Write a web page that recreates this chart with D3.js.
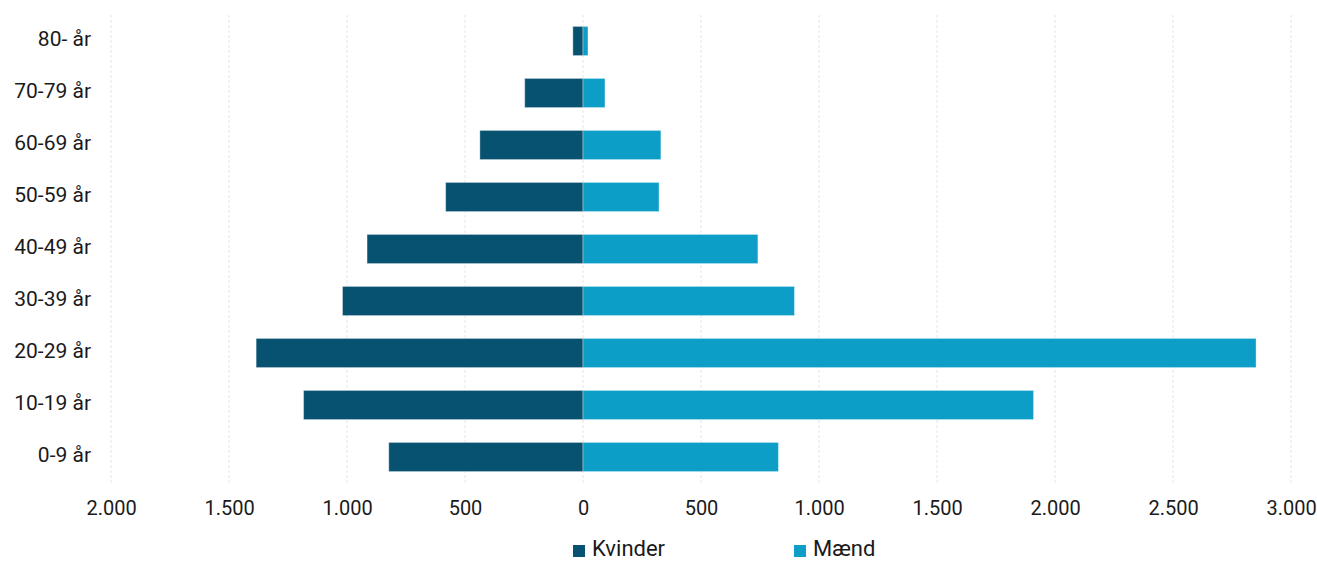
<!DOCTYPE html>
<html><head><meta charset="utf-8">
<script src="https://cdn.jsdelivr.net/npm/d3@7"></script>
<style>
body{margin:0;background:#fff;}
text{font-family:"Roboto","DejaVu Sans Condensed",sans-serif;fill:#1a1a1a;}
</style></head>
<body><svg id="c" width="1317" height="562"></svg>
<script>
const categories = ["80- år","70-79 år","60-69 år","50-59 år","40-49 år","30-39 år","20-29 år","10-19 år","0-9 år"];
const kvinder = [43, 247, 437, 582, 915, 1019, 1385, 1184, 823];
const maend = [21, 93, 330, 322, 741, 896, 2852, 1909, 828];
const tickValues = [-2000,-1500,-1000,-500,0,500,1000,1500,2000,2500,3000];
const seriesNames = ["Kvinder","Mænd"];
const colors = ["#065270","#0c9ec6"];

const svg = d3.select("#c");
const x = d3.scaleLinear().domain([-2000,3000]).range([111,1291]);
const y = d3.scaleBand().domain(categories).range([15,483]).paddingInner(0.44).paddingOuter(0.22);

// gridlines
svg.append("g").selectAll("line").data(tickValues).join("line")
  .attr("x1",d=>x(d)).attr("x2",d=>x(d)).attr("y1",15).attr("y2",483)
  .attr("stroke","#e6e6e6").attr("stroke-width",1).attr("stroke-dasharray","3,2");

// bars
svg.append("g").selectAll("rect").data(categories).join("rect")
  .attr("x",(d,i)=>x(-kvinder[i])).attr("width",(d,i)=>x(0)-x(-kvinder[i]))
  .attr("y",d=>y(d)).attr("height",y.bandwidth()).attr("fill",colors[0])
  .attr("stroke","rgba(255,255,255,0.35)").attr("stroke-width",1);
svg.append("g").selectAll("rect").data(categories).join("rect")
  .attr("x",x(0)).attr("width",(d,i)=>x(maend[i])-x(0))
  .attr("y",d=>y(d)).attr("height",y.bandwidth()).attr("fill",colors[1])
  .attr("stroke","rgba(255,255,255,0.35)").attr("stroke-width",1);

// y axis labels
const ya = svg.append("g").attr("transform","translate(91,-2)")
  .call(d3.axisLeft(y).tickSize(0).tickPadding(0));
ya.select(".domain").remove();
ya.selectAll("text").style("font-size","21px").style("font-family","Roboto, sans-serif").attr("fill","#1a1a1a");

// x axis
const fmt = v => d3.format(",")(Math.abs(v)).replace(/,/g,".");
const xa = svg.append("g").attr("transform","translate(0,483)")
  .call(d3.axisBottom(x).tickValues(tickValues).tickFormat(fmt).tickSize(0).tickPadding(18));
xa.select(".domain").remove();
xa.selectAll("text").style("font-size","20px").style("font-family","Roboto, sans-serif").attr("fill","#1a1a1a");

// legend
const leg = svg.append("g");
const legX = [573, 794];
seriesNames.forEach((n,i)=>{
  leg.append("rect").attr("x",legX[i]).attr("y",545).attr("width",12).attr("height",12).attr("fill",colors[i]);
  leg.append("text").attr("x",legX[i]+19).attr("y",556).text(n).style("font-size","22px");
});
</script></body></html>
